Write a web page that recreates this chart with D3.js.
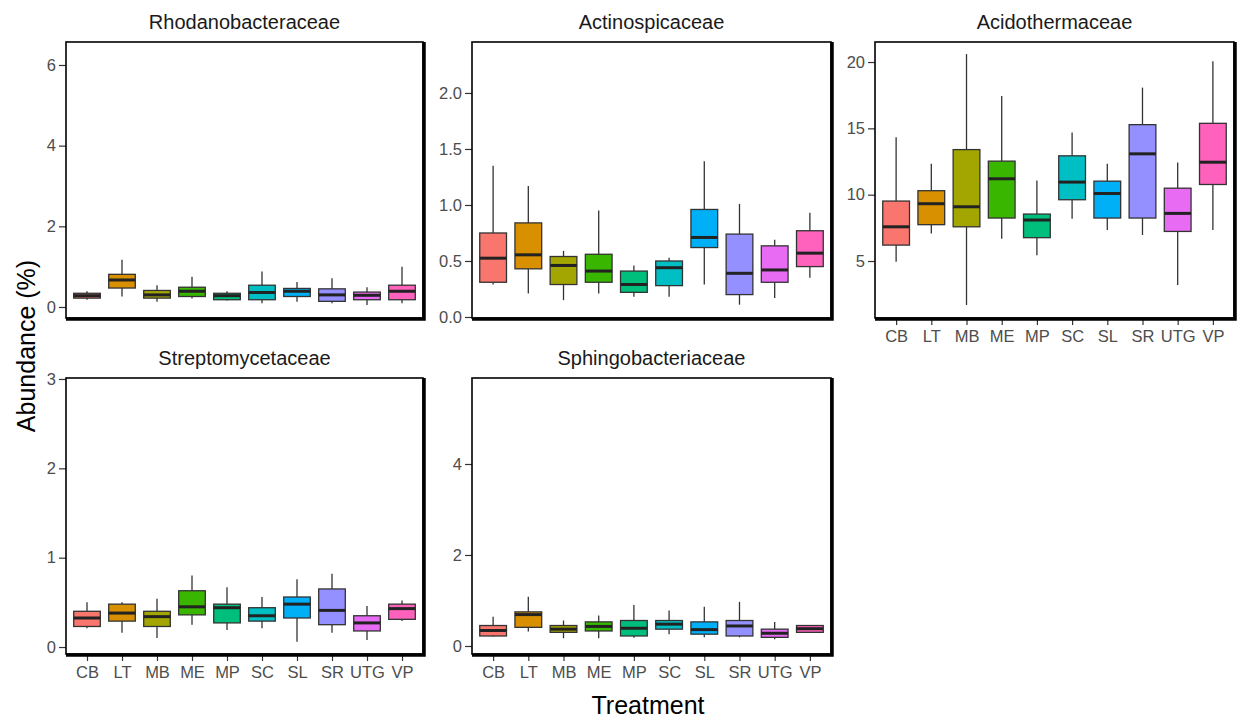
<!doctype html>
<html>
<head>
<meta charset="utf-8">
<style>
  body { margin: 0; background: #fff; }
  text { font-family: "Liberation Sans", Arial, sans-serif; }
</style>
</head>
<body>
<script src="https://cdn.jsdelivr.net/npm/d3@7"></script>
<script>
// treatments on the x axis, ggplot default hue colours
var treatments = ["CB", "LT", "MB", "ME", "MP", "SC", "SL", "SR", "UTG", "VP"];
var fills = ["#F8766D", "#D89000", "#A3A500", "#39B600", "#00BF7D",
             "#00BFC4", "#00B0F6", "#9590FF", "#E76BF3", "#FF62BC"];

// each row: [whisker low, q1, median, q3, whisker high] per treatment
var rhodanobacteraceae = [
  [0.18, 0.22, 0.28, 0.34, 0.39], [0.26, 0.47, 0.67, 0.81, 1.17],
  [0.13, 0.22, 0.30, 0.41, 0.54], [0.21, 0.26, 0.39, 0.49, 0.75],
  [0.16, 0.18, 0.28, 0.34, 0.39], [0.09, 0.18, 0.36, 0.54, 0.88],
  [0.13, 0.26, 0.39, 0.46, 0.62], [0.09, 0.14, 0.30, 0.45, 0.71],
  [0.05, 0.18, 0.29, 0.37, 0.49], [0.09, 0.18, 0.39, 0.54, 1.00]
];
var actinospicaceae = [
  [0.29, 0.31, 0.525, 0.75, 1.35], [0.21, 0.43, 0.555, 0.84, 1.17],
  [0.15, 0.29, 0.46, 0.54, 0.59], [0.21, 0.31, 0.41, 0.56, 0.95],
  [0.18, 0.22, 0.29, 0.41, 0.46], [0.18, 0.28, 0.44, 0.50, 0.53],
  [0.29, 0.62, 0.71, 0.96, 1.39], [0.11, 0.20, 0.39, 0.74, 1.01],
  [0.17, 0.31, 0.42, 0.635, 0.69], [0.35, 0.45, 0.57, 0.77, 0.93]
];
var acidothermaceae = [
  [4.95, 6.2, 7.58, 9.52, 14.33], [7.08, 7.74, 9.32, 10.3, 12.33],
  [1.69, 7.58, 9.09, 13.4, 20.6], [6.68, 8.24, 11.2, 12.53, 17.44],
  [5.43, 6.76, 8.09, 8.54, 11.07], [8.19, 9.62, 10.95, 12.93, 14.68],
  [7.33, 8.24, 10.09, 11.02, 12.33], [6.96, 8.24, 13.08, 15.28, 18.07],
  [3.2, 7.23, 8.59, 10.49, 12.43], [7.33, 10.77, 12.45, 15.38, 20.05]
];
var streptomycetaceae = [
  [0.21, 0.23, 0.325, 0.40, 0.50], [0.16, 0.29, 0.38, 0.48, 0.50],
  [0.10, 0.23, 0.34, 0.40, 0.54], [0.25, 0.36, 0.45, 0.63, 0.80],
  [0.19, 0.27, 0.44, 0.48, 0.67], [0.21, 0.29, 0.35, 0.44, 0.56],
  [0.06, 0.325, 0.48, 0.56, 0.76], [0.16, 0.25, 0.41, 0.65, 0.82],
  [0.08, 0.18, 0.27, 0.35, 0.46], [0.29, 0.31, 0.43, 0.48, 0.52]
];
var sphingobacteriaceae = [
  [0.21, 0.22, 0.34, 0.45, 0.64], [0.32, 0.41, 0.69, 0.75, 1.08],
  [0.17, 0.30, 0.37, 0.45, 0.56], [0.17, 0.33, 0.43, 0.53, 0.67],
  [0.18, 0.22, 0.39, 0.56, 0.90], [0.26, 0.37, 0.48, 0.56, 0.78],
  [0.19, 0.26, 0.36, 0.53, 0.86], [0.19, 0.22, 0.44, 0.56, 0.97],
  [0.15, 0.19, 0.28, 0.37, 0.53], [0.30, 0.30, 0.38, 0.45, 0.45]
];

var families = ["Rhodanobacteraceae", "Actinospicaceae", "Acidothermaceae",
                "Streptomycetaceae", "Sphingobacteriaceae"];
var familyData = [rhodanobacteraceae, actinospicaceae, acidothermaceae,
                  streptomycetaceae, sphingobacteriaceae];
var yDomains = [[-0.273, 6.57], [-0.009, 2.455], [0.705, 21.51], [-0.078, 3.011], [-0.176, 5.89]];
var yTicks = [[0, 2, 4, 6], [0, 0.5, 1, 1.5, 2], [5, 10, 15, 20], [0, 1, 2, 3], [0, 2, 4]];
var yFormats = ["d", ".1f", "d", "d", "d"];

var width = 1242, height = 719;
var colX = [[66, 423], [472, 831], [875, 1234]];
var rowY = [[42, 318], [378, 654]];
var showX = [false, false, true, true, true];

var svg = d3.select("body").append("svg")
    .attr("width", width)
    .attr("height", height);

families.forEach(function (name, i) {
  var col = i % 3, row = Math.floor(i / 3);
  var x0 = colX[col][0], x1 = colX[col][1];
  var y0 = rowY[row][0], y1 = rowY[row][1];

  var x = d3.scalePoint().domain(treatments).range([x0, x1]).padding(0.6);
  var y = d3.scaleLinear().domain(yDomains[i]).range([y1, y0]);
  var bw = x.step() * 0.76;

  var g = svg.append("g");

  // title
  g.append("text")
      .attr("x", (x0 + x1) / 2)
      .attr("y", y0 - 13)
      .attr("text-anchor", "middle")
      .attr("font-size", 20)
      .attr("fill", "#1a1a1a")
      .text(name);

  // y axis
  var yAxis = d3.axisLeft(y)
      .tickValues(yTicks[i])
      .tickFormat(d3.format(yFormats[i]))
      .tickSize(7)
      .tickPadding(3);
  var ya = g.append("g").attr("transform", "translate(" + x0 + ",0)").call(yAxis);
  ya.select(".domain").remove();
  ya.selectAll(".tick line").attr("stroke", "#333").attr("stroke-width", 1.2);
  ya.selectAll(".tick text")
      .attr("font-size", 16.5)
      .attr("fill", "#4d4d4d")
      .style("font-family", "'Liberation Sans', Arial, sans-serif");

  // x axis
  if (showX[i]) {
    var xAxis = d3.axisBottom(x).tickSize(7).tickPadding(5);
    var xa = g.append("g").attr("transform", "translate(0," + y1 + ")").call(xAxis);
    xa.select(".domain").remove();
    xa.selectAll(".tick line").attr("stroke", "#333").attr("stroke-width", 1.2);
    xa.selectAll(".tick text")
        .attr("font-size", 16.5)
        .attr("fill", "#4d4d4d")
        .style("font-family", "'Liberation Sans', Arial, sans-serif");
  }

  // boxes
  var box = g.selectAll(".box")
      .data(familyData[i])
      .enter().append("g")
      .attr("class", "box")
      .attr("transform", function (d, j) { return "translate(" + x(treatments[j]) + ",0)"; });

  box.append("line")
      .attr("x1", 0).attr("x2", 0)
      .attr("y1", function (d) { return y(d[4]); })
      .attr("y2", function (d) { return y(d[3]); })
      .attr("stroke", "#333").attr("stroke-width", 1.3);
  box.append("line")
      .attr("x1", 0).attr("x2", 0)
      .attr("y1", function (d) { return y(d[1]); })
      .attr("y2", function (d) { return y(d[0]); })
      .attr("stroke", "#333").attr("stroke-width", 1.3);
  box.append("rect")
      .attr("x", -bw / 2)
      .attr("width", bw)
      .attr("y", function (d) { return y(d[3]); })
      .attr("height", function (d) { return Math.max(0.5, y(d[1]) - y(d[3])); })
      .attr("fill", function (d, j) { return fills[j]; })
      .attr("stroke", "#333").attr("stroke-width", 1.3);
  box.append("line")
      .attr("x1", -bw / 2).attr("x2", bw / 2)
      .attr("y1", function (d) { return y(d[2]); })
      .attr("y2", function (d) { return y(d[2]); })
      .attr("stroke", "#222").attr("stroke-width", 3);

  // panel border: thin top/left, heavy right/bottom
  g.append("rect")
      .attr("x", x0).attr("y", y0)
      .attr("width", x1 - x0).attr("height", y1 - y0)
      .attr("fill", "none")
      .attr("stroke", "#000").attr("stroke-width", 1.6);
  g.append("path")
      .attr("d", "M" + x0 + "," + (y1 + 1) + "H" + (x1 + 1) + "V" + y0)
      .attr("fill", "none")
      .attr("stroke", "#000").attr("stroke-width", 3.5);
});

// axis titles
svg.append("text")
    .attr("transform", "translate(35,346) rotate(-90)")
    .attr("text-anchor", "middle")
    .attr("font-size", 25)
    .attr("fill", "#000")
    .text("Abundance (%)");

svg.append("text")
    .attr("x", 648)
    .attr("y", 714)
    .attr("text-anchor", "middle")
    .attr("font-size", 25)
    .attr("fill", "#000")
    .text("Treatment");
</script>
</body>
</html>
